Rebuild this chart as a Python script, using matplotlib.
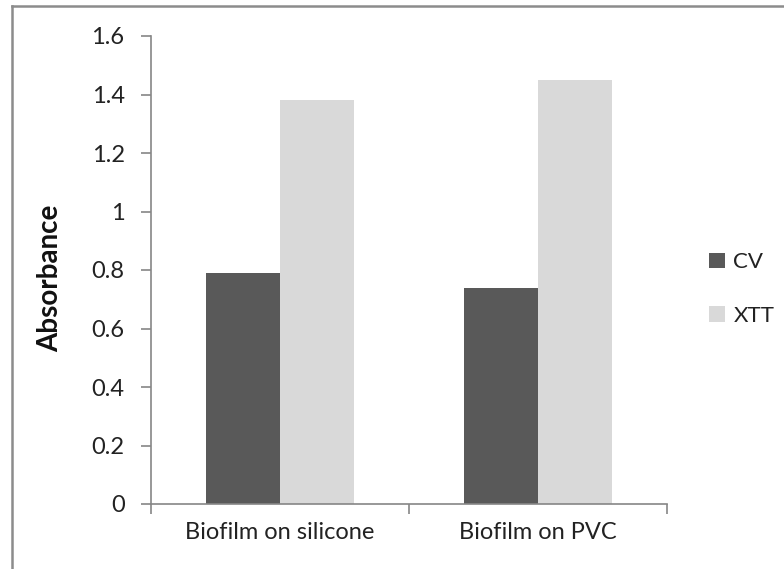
import numpy as np
import matplotlib.pyplot as plt
from matplotlib.patches import Patch
from matplotlib.lines import Line2D

plt.rcParams['font.family'] = ['Lato', 'DejaVu Sans']

categories = ['Biofilm on silicone', 'Biofilm on PVC']
series = ['CV', 'XTT']
cv_values = [0.79, 0.74]
xtt_values = [1.38, 1.45]
yticks = [0, 0.2, 0.4, 0.6, 0.8, 1, 1.2, 1.4, 1.6]

COLOR = {'CV': '#595959', 'XTT': '#d9d9d9'}
AXIS_GRAY = '#868686'

W, H = 784, 569
fig = plt.figure(figsize=(W / 100, H / 100), dpi=100)
ax = fig.add_axes([151 / W, 65 / H, (667 - 151) / W, (533 - 65) / H])

x = np.arange(len(categories))
bw = 0.285
ax.bar(x - bw / 2, cv_values, bw, color=COLOR['CV'], label='CV')
ax.bar(x + bw / 2, xtt_values, bw, color=COLOR['XTT'], label='XTT')

ax.set_xlim(-0.5, len(categories) - 0.5)
ax.set_ylim(0, 1.6)
ax.set_yticks(yticks)
ax.set_yticklabels(['%g' % v for v in yticks])

# category boundaries get the tick marks, names sit centred in between
ax.set_xticks(np.arange(len(categories) + 1) - 0.5)
ax.set_xticklabels([])
ax.set_xticks(x, minor=True)
ax.set_xticklabels(categories, minor=True)
ax.tick_params(axis='x', which='minor', length=0, pad=13, labelsize=17, colors='#222222')
ax.tick_params(axis='x', which='major', length=7, width=1.2, color=AXIS_GRAY)
ax.tick_params(axis='y', length=7, width=1.2, color=AXIS_GRAY, pad=12,
               labelsize=17, labelcolor='#222222')

for side in ['top', 'right']:
    ax.spines[side].set_visible(False)
for side in ['left', 'bottom']:
    ax.spines[side].set_color(AXIS_GRAY)
    ax.spines[side].set_linewidth(1.2)

fig.text(50 / W, 1 - 278 / H, 'Absorbance', rotation=90, fontsize=20,
         fontweight='bold', ha='center', va='center', color='#111111')

handles = [Patch(facecolor=COLOR[s], edgecolor='none') for s in series]
fig.legend(handles, series, loc='center left', bbox_to_anchor=(709 / W, 1 - 289 / H),
           frameon=False, fontsize=16, handlelength=0.7, handleheight=0.7,
           handletextpad=0.4, labelspacing=1.5, borderpad=0, borderaxespad=0,
           labelcolor='#222222')

# chart area frame
fig.add_artist(Line2D([12 / W, 12 / W], [0, 1 - 6 / H], color='#8c8c8c', lw=1.8,
                      transform=fig.transFigure))
fig.add_artist(Line2D([12 / W, 1], [1 - 6 / H, 1 - 6 / H], color='#8c8c8c', lw=1.8,
                      transform=fig.transFigure))

fig.savefig('out.png', dpi=100)
